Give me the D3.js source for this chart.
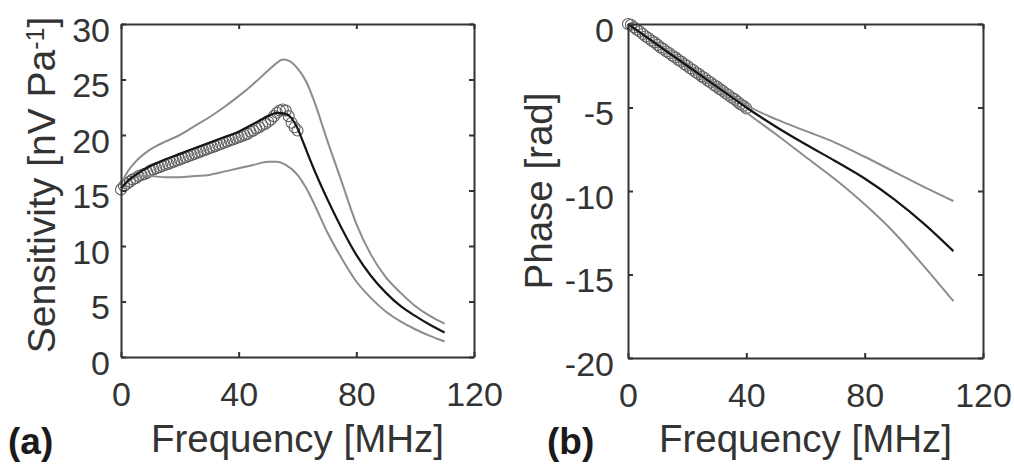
<!DOCTYPE html>
<html>
<head>
<meta charset="utf-8">
<script src="https://cdn.jsdelivr.net/npm/d3@7"></script>
<style>
  body { margin: 0; background: #fff; }
  svg text { font-family: "Liberation Sans", Arial, sans-serif; fill: #333; }
</style>
</head>
<body>
<svg id="fig" width="1014" height="465"></svg>
<script>
// (a) sensitivity, nV/Pa
var sensFreq  = [0, 2.5, 5, 10, 15, 20, 25, 30, 35, 40, 45, 50, 53, 56, 58, 60, 62, 65, 70, 75, 80, 85, 90, 95, 100, 105, 110];
var sensMean  = [15.2, 15.9, 16.4, 17.2, 17.8, 18.3, 18.8, 19.3, 19.8, 20.3, 21.0, 21.7, 22.0, 21.9, 21.5, 20.6, 19.3, 17.3, 14.3, 11.6, 9.2, 7.3, 5.8, 4.6, 3.7, 2.9, 2.2];
var sensUpFreq = [0, 2.5, 5, 10, 15, 20, 25, 30, 35, 40, 45, 50, 53, 55, 57, 60, 63, 66, 70, 75, 80, 85, 90, 95, 100, 105, 110];
var sensUpper = [15.6, 16.8, 17.6, 18.7, 19.4, 20.0, 20.8, 21.6, 22.5, 23.5, 24.6, 25.8, 26.5, 26.8, 26.7, 26.0, 24.8, 22.8, 19.6, 15.8, 12.0, 9.2, 7.2, 5.8, 4.6, 3.7, 3.0];
var sensLoFreq = [0, 2.5, 5, 7.5, 10, 15, 20, 25, 30, 35, 40, 45, 50, 53, 56, 60, 63, 66, 70, 75, 80, 85, 90, 95, 100, 105, 110];
var sensLower = [15.0, 15.8, 16.2, 16.3, 16.3, 16.2, 16.2, 16.3, 16.4, 16.7, 17.0, 17.3, 17.6, 17.6, 17.3, 16.4, 15.2, 13.6, 11.3, 8.9, 6.8, 5.3, 4.1, 3.2, 2.5, 1.9, 1.4];
// measured points (circles), 0..60 MHz step 1
var sensMeas = [15.1, 15.4, 15.6, 15.8, 16.0, 16.1, 16.3, 16.4, 16.5, 16.6, 16.8, 16.9, 17.0, 17.1, 17.2, 17.3, 17.4, 17.5, 17.6, 17.7,
  17.8, 17.9, 18.0, 18.1, 18.2, 18.3, 18.4, 18.5, 18.6, 18.7, 18.8, 18.9, 19.0, 19.1, 19.2, 19.3, 19.4, 19.5, 19.6, 19.7,
  19.8, 19.9, 20.0, 20.1, 20.3, 20.4, 20.6, 20.7, 20.9, 21.0, 21.2, 21.4, 21.7, 22.0, 22.2, 22.3, 22.2, 21.7, 21.1, 20.7, 20.4];

// (b) phase, rad
var phaseFreq  = [0, 10, 20, 30, 40, 50, 60, 70, 80, 90, 100, 110];
var phaseMean  = [0, -1.25, -2.5, -3.75, -5.0, -6.15, -7.2, -8.2, -9.25, -10.5, -11.95, -13.6];
var phaseUpper = [0, -1.2, -2.4, -3.6, -4.85, -5.7, -6.4, -7.1, -7.95, -8.85, -9.75, -10.6];
var phaseLower = [0, -1.3, -2.6, -3.9, -5.3, -6.6, -7.95, -9.3, -10.8, -12.5, -14.5, -16.6];
// measured points, 0..40 MHz step 1
var phaseMeas = [0, -0.05, -0.2, -0.35, -0.45, -0.6, -0.75, -0.85, -1.0, -1.1, -1.25, -1.4, -1.5, -1.65, -1.75, -1.9, -2.0, -2.15, -2.25, -2.4,
  -2.5, -2.65, -2.75, -2.9, -3.0, -3.15, -3.25, -3.4, -3.5, -3.65, -3.75, -3.9, -4.0, -4.15, -4.25, -4.4, -4.5, -4.65, -4.8, -4.9, -5.05];

var freqTicks = [0, 40, 80, 120];
var sensTicks = [0, 5, 10, 15, 20, 25, 30];
var phaseTicks = [0, -5, -10, -15, -20];

var svg = d3.select("#fig");

function zip(xs, ys) {
  return xs.map(function (f, i) { return { f: f, v: ys[i] }; });
}

function panel(opt) {
  var w = opt.right - opt.left, h = opt.bottom - opt.top;
  var x = d3.scaleLinear().domain([0, 120]).range([0, w]);
  var y = d3.scaleLinear().domain(opt.yDomain).range([h, 0]);
  var g = svg.append("g").attr("transform", "translate(" + opt.left + "," + opt.top + ")");

  var line = d3.line()
    .x(function (d) { return x(d.f); })
    .y(function (d) { return y(d.v); })
    .curve(d3.curveMonotoneX);

  // measured circles
  g.append("g").selectAll("circle")
    .data(opt.meas)
    .enter().append("circle")
    .attr("cx", function (d) { return x(d.f); })
    .attr("cy", function (d) { return y(d.v); })
    .attr("r", 5.5)
    .attr("fill", "none")
    .attr("stroke", "#5e5e5e")
    .attr("stroke-width", 1.1);

  opt.greys.forEach(function (s) {
    g.append("path").datum(s).attr("d", line)
      .attr("fill", "none").attr("stroke", "#8c8c8c").attr("stroke-width", 2);
  });
  g.append("path").datum(opt.mean).attr("d", line)
    .attr("fill", "none").attr("stroke", "#151515").attr("stroke-width", 2.2);

  // axes with inward ticks, box on
  var ax = [
    g.append("g").attr("transform", "translate(0," + h + ")")
      .call(d3.axisBottom(x).tickValues(freqTicks).tickSizeInner(-5).tickSizeOuter(0).tickPadding(25)),
    g.append("g")
      .call(d3.axisLeft(y).tickValues(opt.yTicks).tickSizeInner(-5).tickSizeOuter(0).tickPadding(opt.yPad)
        .tickFormat(function (d) { return String(d); })),
    g.append("g")
      .call(d3.axisTop(x).tickValues(freqTicks).tickSizeInner(-5).tickSizeOuter(0).tickFormat("")),
    g.append("g").attr("transform", "translate(" + w + ",0)")
      .call(d3.axisRight(y).tickValues(opt.yTicks).tickSizeInner(-5).tickSizeOuter(0).tickFormat(""))
  ];
  ax.forEach(function (a) {
    a.select(".domain").attr("stroke", "#333").attr("stroke-width", 2);
    a.selectAll(".tick line").attr("stroke", "#333").attr("stroke-width", 2);
    a.selectAll(".tick text").style("font-size", "34px").attr("fill", "#333");
  });
  ax[1].selectAll(".tick text").attr("dy", "0.5em");

  // x label
  svg.append("text")
    .attr("x", opt.left + w / 2).attr("y", 452)
    .attr("text-anchor", "middle")
    .style("font-size", "38.5px")
    .text("Frequency [MHz]");

  // panel letter
  svg.append("text")
    .attr("x", opt.letterX).attr("y", 454)
    .style("font-size", "37px").style("font-weight", "bold").style("fill", "#1a1a1a")
    .text(opt.letter);

  return g;
}

panel({
  left: 121, right: 474, top: 24, bottom: 357,
  yDomain: [0, 30], yTicks: sensTicks, yPad: 11,
  mean: zip(sensFreq, sensMean),
  greys: [zip(sensUpFreq, sensUpper), zip(sensLoFreq, sensLower)],
  meas: sensMeas.map(function (v, i) { return { f: i, v: v }; }),
  letter: "(a)", letterX: 8
});

panel({
  left: 628, right: 983, top: 24, bottom: 358,
  yDomain: [-20, 0], yTicks: phaseTicks, yPad: 14,
  mean: zip(phaseFreq, phaseMean),
  greys: [zip(phaseFreq, phaseUpper), zip(phaseFreq, phaseLower)],
  meas: phaseMeas.map(function (v, i) { return { f: i, v: v }; }),
  letter: "(b)", letterX: 547
});

// y labels
var yl = svg.append("text")
  .attr("transform", "translate(55,185) rotate(-90)")
  .attr("text-anchor", "middle")
  .style("font-size", "39px");
yl.append("tspan").text("Sensitivity [nV Pa");
yl.append("tspan").attr("dy", "-0.45em").style("font-size", "25px").text("-1");
yl.append("tspan").attr("dy", "0.3em").text("]");

svg.append("text")
  .attr("transform", "translate(552,191) rotate(-90)")
  .attr("text-anchor", "middle")
  .style("font-size", "38.5px")
  .text("Phase [rad]");
</script>
</body>
</html>
